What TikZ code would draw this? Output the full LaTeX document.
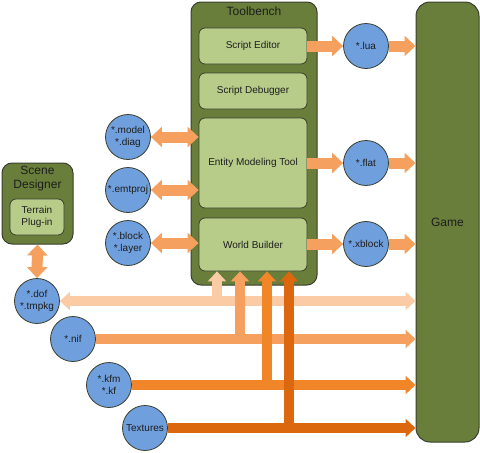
\documentclass[tikz,border=0pt]{standalone}
\usepackage{fontspec}
\setmainfont{Liberation Sans}
\usetikzlibrary{arrows.meta}
\definecolor{tbgreen}{HTML}{687E3A}
\definecolor{lgreen}{HTML}{B8CC8A}
\definecolor{fblue}{HTML}{6F9FDC}
\definecolor{edgec}{HTML}{3A3F30}
\definecolor{cpeach}{HTML}{FBCBA6}
\definecolor{clight}{HTML}{F5A05E}
\definecolor{corange}{HTML}{F18628}
\definecolor{cdark}{HTML}{DB670F}
\definecolor{txt}{HTML}{1E1E1E}
\begin{document}
\begin{tikzpicture}[x=1pt,y=-1pt, font=\fontsize{10}{12}\selectfont, text=txt,
 outerbox/.style={draw=edgec, line width=1pt, fill=tbgreen, rounded corners=10pt},
 innerbox/.style={draw=edgec, line width=0.8pt, fill=lgreen, rounded corners=6pt, minimum width=108pt, align=center},
 filec/.style={circle, draw=edgec, line width=0.8pt, fill=fblue, minimum size=45pt, inner sep=0pt, align=center, font=\fontsize{10}{12}\selectfont},
 arr/.style={line width=11pt, -{Triangle[length=11pt,width=20pt]}},
 darr/.style={line width=11pt, {Triangle[length=11pt,width=20pt]}-{Triangle[length=11pt,width=20pt]}},
 harr/.style={line width=10pt, -{Triangle[length=10pt,width=18pt]}},
 hdarr/.style={line width=10pt, {Triangle[length=10pt,width=18pt]}-{Triangle[length=10pt,width=18pt]}},
 title/.style={font=\fontsize{12}{14}\selectfont, align=center, inner sep=0pt},
]
\useasboundingbox (0,0) rectangle (480,453);

% Toolbench
\node[outerbox, minimum width=126pt, minimum height=283pt] (tb) at (254,143.5) {};
\node[title] (tbt) at (254,11) {Toolbench};
\node[innerbox, minimum height=36pt] (se) at (253,46) {Script Editor};
\node[innerbox, minimum height=36pt] (sdb) at (253,91) {Script Debugger};
\node[innerbox, minimum height=90pt] (emt) at (253,163) {Entity Modeling Tool};
\node[innerbox, minimum height=53pt] (wb) at (253,244.5) {World Builder};

% Game
\node[outerbox, rounded corners=14pt, minimum width=63pt, minimum height=440pt, font=\fontsize{12}{14}\selectfont] (game) at (447.5,222) {Game};

% Scene Designer
\node[outerbox, minimum width=71pt, minimum height=81pt] (sd) at (37.5,203.5) {};
\node[title] (sdt) at (37.5,179) {Scene\\Designer};
\node[innerbox, minimum width=54pt, minimum height=36pt, font=\fontsize{10}{11.5}\selectfont] (tp) at (37,217) {Terrain\\Plug-in};

% files
\node[filec] (lua) at (366,46) {*.lua};
\node[filec] (flat) at (366,163) {*.flat};
\node[filec] (xblock) at (366,244) {*.xblock};
\node[filec] (model) at (128,137) {*.model\\*.diag};
\node[filec] (emtp) at (128,190) {*.emtproj};
\node[filec] (blk) at (128,243) {*.block\\*.layer};
\node[filec] (dof) at (37,301) {*.dof\\*.tmpkg};
\node[filec] (nif) at (73,339) {*.nif};
\node[filec] (kfm) at (109,385) {*.kfm\\*.kf};
\node[filec] (tex) at (145,428) {Textures};

% arrows
\draw[arr, clight] (se.east) -- (lua.west);
\draw[arr, clight] (lua.east) -- (lua.east -| game.west);
\draw[arr, clight] (emt.east |- flat) -- (flat.west);
\draw[arr, clight] (flat.east) -- (flat.east -| game.west);
\draw[arr, clight] (wb.east |- xblock) -- (xblock.west);
\draw[arr, clight] (xblock.east) -- (xblock.east -| game.west);
\draw[darr, clight] (model.east) -- (model.east -| emt.west);
\draw[darr, clight] (emtp.east) -- (emtp.east -| emt.west);
\draw[darr, clight] (blk.east) -- (blk.east -| wb.west);
\draw[darr, clight] (sd.south) -- (dof.north);

% long horizontal arrows
\draw[hdarr, cpeach] (dof.east) -- (dof.east -| game.west);
\draw[harr, clight] (nif.east) -- (nif.east -| game.west);
\draw[harr, corange] (kfm.east) -- (kfm.east -| game.west);
\draw[harr, cdark] (tex.east) -- (tex.east -| game.west);

% vertical arrows
\coordinate (v1) at (217,0);
\coordinate (v2) at (240,0);
\coordinate (v3) at (267,0);
\coordinate (v4) at (289,0);
\draw[harr, cpeach] (v1 |- dof.east) -- (v1 |- wb.south);
\draw[harr, clight] (v2 |- nif.east) -- (v2 |- wb.south);
\draw[harr, corange] (v3 |- kfm.east) -- (v3 |- wb.south);
\draw[harr, cdark] (v4 |- tex.east) -- (v4 |- wb.south);
\end{tikzpicture}
\end{document}
